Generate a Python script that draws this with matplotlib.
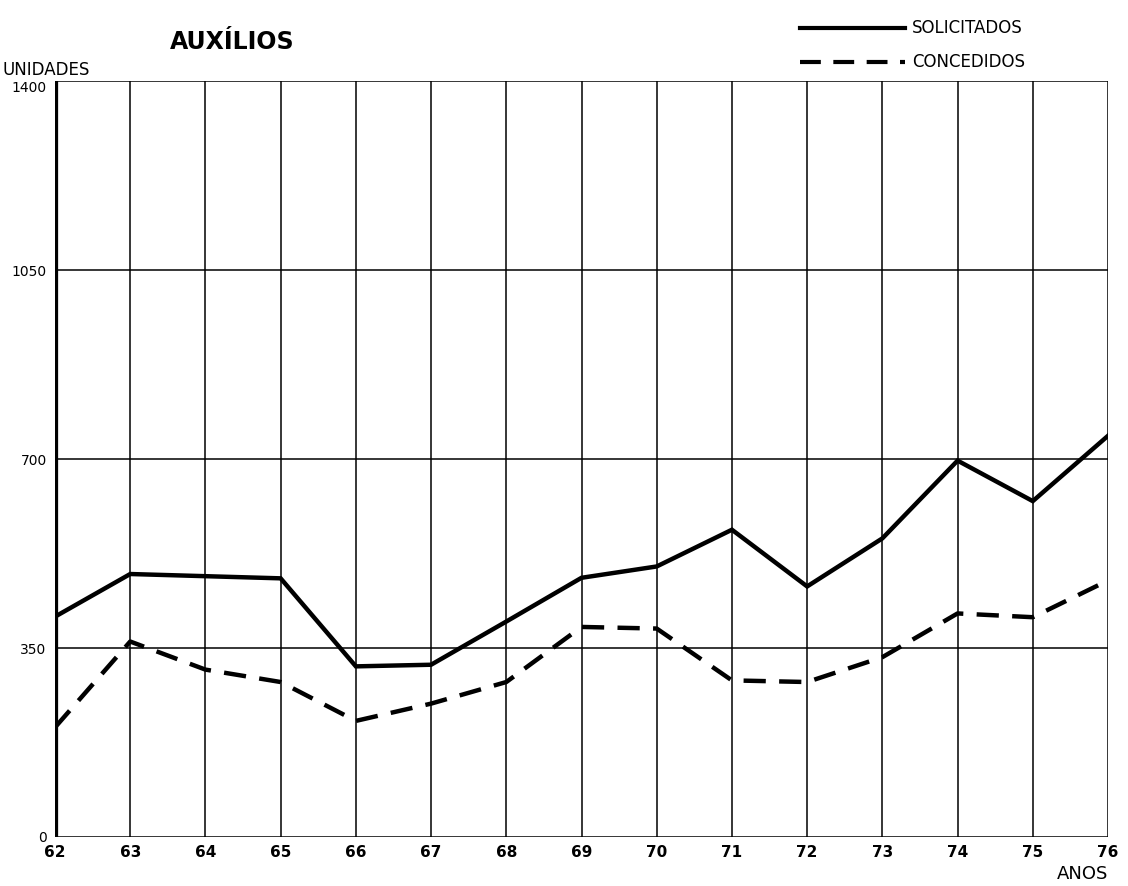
import matplotlib
matplotlib.use('Agg')
import matplotlib.pyplot as plt

# Dados
anos = [62, 63, 64, 65, 66, 67, 68, 69, 70, 71, 72, 73, 74, 75, 76]
solicitados = [408, 487, 483, 479, 316, 319, 399, 480, 501, 569, 464, 553, 697, 622, 743]
concedidos = [203, 362, 310, 287, 215, 247, 287, 389, 386, 290, 287, 333, 414, 407, 475]
niveis_y = [0, 350, 700, 1050, 1400]

fig = plt.figure(figsize=(11.28, 8.86), dpi=100)
ax = fig.add_axes([55 / 1128, 1 - 837 / 886, (1108 - 55) / 1128, (837 - 81) / 886])

# Grade
for a in anos:
    ax.axvline(a, color='black', lw=1.1, zorder=1)
for v in niveis_y:
    ax.axhline(v, color='black', lw=1.1, zorder=1)

# Eixo vertical grosso
ax.axvline(anos[0], color='black', lw=4.5, zorder=2)

ax.plot(anos, solicitados, color='black', lw=3.2, solid_joinstyle='miter',
        zorder=3, label='SOLICITADOS')
ax.plot(anos, concedidos, color='black', lw=3.2, dashes=(5, 3),
        zorder=3, label='CONCEDIDOS')

ax.set_xlim(anos[0], anos[-1])
ax.set_ylim(0, 1400)
ax.set_xticks(anos)
ax.set_xticklabels([str(a) for a in anos], fontsize=11, fontweight='bold')
ax.set_yticks(niveis_y)
ax.set_yticklabels([str(v) for v in niveis_y], fontsize=10)
ax.get_yticklabels()[-1].set_va('top')
ax.tick_params(length=0, pad=6)
for s in ax.spines.values():
    s.set_visible(False)

# Textos
fig.text(170 / 1128, 1 - 42 / 886, 'AUXÍLIOS', fontsize=17, fontweight='bold',
         va='center', ha='left')
fig.text(2 / 1128, 1 - 70 / 886, 'UNIDADES', fontsize=12, va='center', ha='left')
fig.text(1108 / 1128, 1 - 874 / 886, 'ANOS', fontsize=13, va='center', ha='right')

# Legenda manual
fig.add_artist(plt.Line2D([800 / 1128, 905 / 1128], [1 - 28 / 886, 1 - 28 / 886],
                          color='black', lw=3))
fig.add_artist(plt.Line2D([800 / 1128, 905 / 1128], [1 - 62 / 886, 1 - 62 / 886],
                          color='black', lw=3, dashes=(5, 3)))
fig.text(912 / 1128, 1 - 28 / 886, 'SOLICITADOS', fontsize=12, va='center')
fig.text(912 / 1128, 1 - 62 / 886, 'CONCEDIDOS', fontsize=12, va='center')

fig.savefig('out.png', dpi=100, facecolor='white')
